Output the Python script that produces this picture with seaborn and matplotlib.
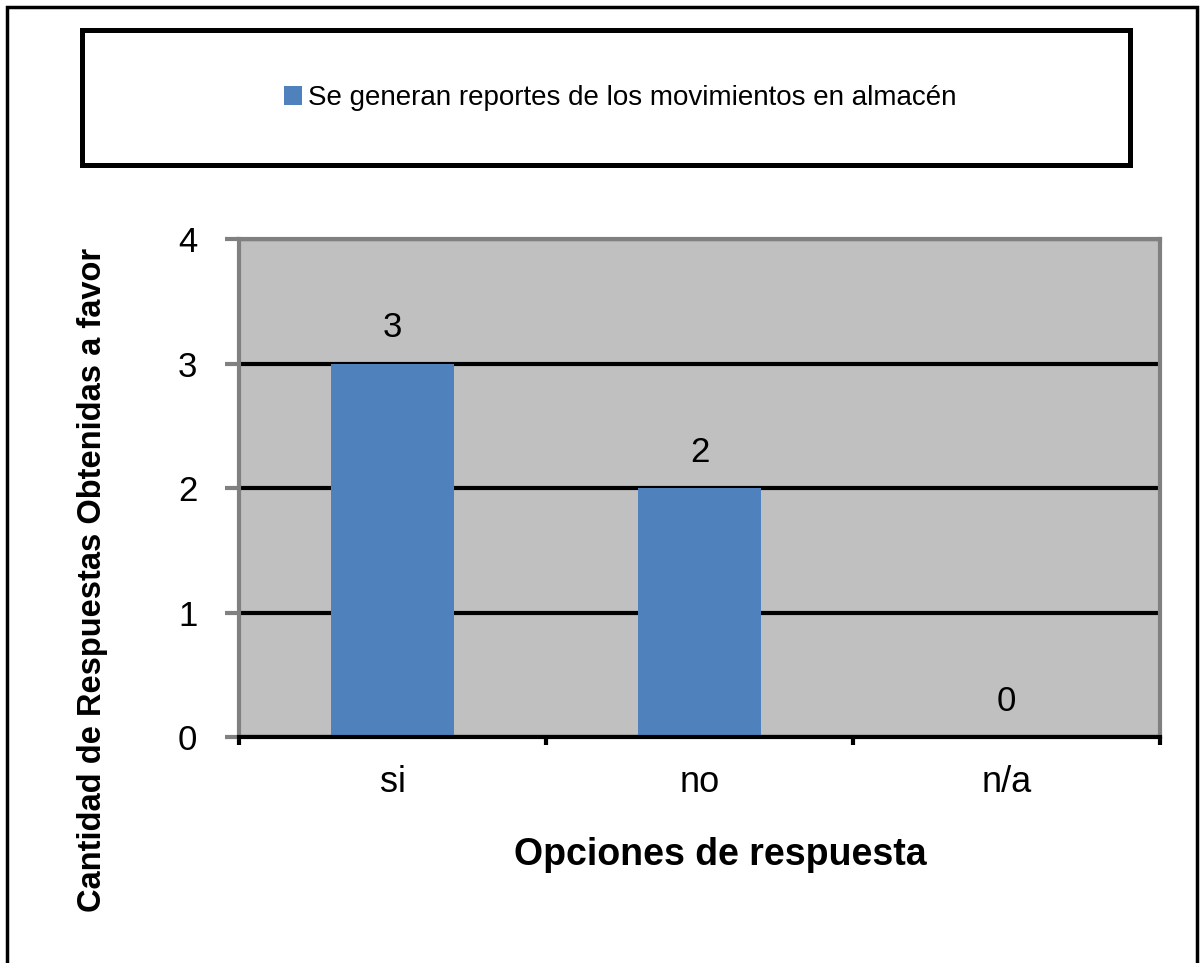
import matplotlib
matplotlib.use("Agg")
import matplotlib.pyplot as plt
import matplotlib.patches as mpatches
import seaborn as sns
import pandas as pd

categories = ["si", "no", "n/a"]
values = [3, 2, 0]
series_name = "Se generan reportes de los movimientos en almacén"
y_ticks = [0, 1, 2, 3, 4]
x_title = "Opciones de respuesta"
y_title = "Cantidad de Respuestas Obtenidas a favor"

sns.set_theme(style="white")
plt.rcParams["font.family"] = ["Liberation Sans", "DejaVu Sans"]
plt.rcParams["text.color"] = "black"
plt.rcParams["axes.labelcolor"] = "black"
plt.rcParams["xtick.color"] = "black"
plt.rcParams["ytick.color"] = "black"

W, H = 1201, 963
fig = plt.figure(figsize=(W / 100, H / 100), dpi=100)
L, R, T, B = 239, 1160, 239, 737
ax = fig.add_axes([L / W, 1 - B / H, (R - L) / W, (B - T) / H])

df = pd.DataFrame({"cat": categories, "val": values})
sns.barplot(data=df, x="cat", y="val", color="#4F81BD", width=0.4,
            saturation=1, ax=ax, label=series_name, zorder=3,
            edgecolor="none", linewidth=0)

ax.set_facecolor("#C0C0C0")
ax.set_ylim(0, 4)
ax.set_xlim(-0.5, 2.5)
ax.set_yticks(y_ticks)
ax.set_yticklabels([str(t) for t in y_ticks], fontsize=25, color="black")
ax.grid(axis="y", color="black", linewidth=3, zorder=1)
ax.grid(axis="x", visible=False)
ax.set_axisbelow(True)
for s in ["left", "top", "right"]:
    ax.spines[s].set_color("#808080")
    ax.spines[s].set_linewidth(3)
ax.spines["bottom"].set_color("black")
ax.spines["bottom"].set_linewidth(3)
ax.spines["bottom"].set_zorder(5)

ax.tick_params(axis="y", which="major", direction="out", length=10, width=3,
               color="#808080", labelcolor="black", pad=20, left=True)
ax.tick_params(axis="x", which="major", length=0, pad=20, labelsize=26,
               labelcolor="black", bottom=True)
ax.set_xticks([-0.5, 0.5, 1.5, 2.5], minor=True)
ax.tick_params(axis="x", which="minor", direction="out", length=6, width=3,
               color="black", bottom=True)

for c in ax.containers:
    ax.bar_label(c, labels=[str(v) for v in values], padding=14, fontsize=25,
                 color="black")

ax.set_xlabel(x_title, fontsize=27, fontweight="bold", color="black")
ax.xaxis.set_label_coords((720 - L) / (R - L), -0.2)
ax.set_ylabel(y_title, fontsize=23.5, fontweight="bold", color="black")
ax.yaxis.set_label_coords((108 - L) / (R - L), (B - 580) / (B - T))

handles, labels = ax.get_legend_handles_labels()
if ax.get_legend() is not None:
    ax.get_legend().remove()
leg = fig.legend(handles, labels, loc="center", bbox_to_anchor=(620 / W, 1 - 98 / H),
                 frameon=False, fontsize=20, handlelength=0.65, handleheight=0.65,
                 handletextpad=0.2)
for t in leg.get_texts():
    t.set_color("black")

# legend box
fig.patches.append(mpatches.Rectangle((82 / W, 1 - 165 / H), (1130 - 82) / W, 135 / H,
                                      transform=fig.transFigure, fill=False,
                                      edgecolor="black", linewidth=3.6))
# outer border
fig.patches.append(mpatches.Rectangle((7 / W, -0.02), (1197 - 7) / W, 1.02 - 7 / H,
                                      transform=fig.transFigure, fill=False,
                                      edgecolor="black", linewidth=2.5))

fig.savefig("out.png", dpi=100, facecolor="white")
